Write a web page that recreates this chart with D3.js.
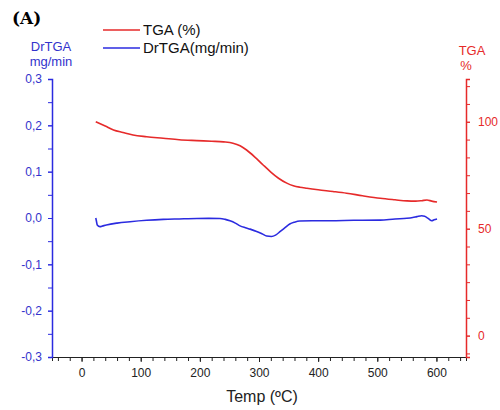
<!DOCTYPE html>
<html><head><meta charset="utf-8">
<script src="https://cdn.jsdelivr.net/npm/d3@7"></script>
<style>body{margin:0;background:#fff}svg{display:block}</style>
</head><body><svg id="c" width="500" height="410"></svg>
<script>
const tgaTemp = [24, 40, 54, 70, 87, 110, 138, 165, 195, 220, 240, 256, 268, 279, 293, 307, 320, 333, 347, 358, 369, 381, 400, 425, 448, 475, 505, 530, 550, 565, 575, 584, 592, 601];
const tgaVal  = [100, 98, 96.2, 95, 93.8, 93, 92.3, 91.6, 91.2, 90.9, 90.6, 90, 88.8, 86.8, 83.5, 79.8, 76.5, 73.6, 71.3, 70.1, 69.4, 68.9, 68.2, 67.4, 66.6, 65.4, 64.2, 63.5, 63, 62.9, 63.1, 63.4, 62.9, 62.5];
const dtgTemp = [24, 25, 26.5, 31, 36, 42, 60, 82, 110, 138, 165, 195, 215, 234, 243, 251, 260, 268, 277, 285, 296, 305, 313, 321, 328, 336, 344, 352, 360, 369, 390, 420, 460, 505, 530, 550, 560, 567, 575, 580, 584, 588, 592, 596, 601];
const dtgVal  = [0, -0.006, -0.015, -0.0187, -0.017, -0.015, -0.011, -0.008, -0.005, -0.003, -0.002, -0.001, -0.0008, -0.001, -0.003, -0.006, -0.011, -0.017, -0.021, -0.024, -0.029, -0.034, -0.039, -0.04, -0.037, -0.029, -0.021, -0.013, -0.009, -0.0065, -0.006, -0.006, -0.005, -0.0045, -0.002, -0.0007, 0.001, 0.003, 0.005, 0.004, 0.001, -0.003, -0.006, -0.004, -0.002];
const xTicks = [0, 100, 200, 300, 400, 500, 600];
const leftTicks = [-0.3, -0.2, -0.1, 0.0, 0.1, 0.2, 0.3];
const rightTicks = [0, 50, 100];

const blue = "#2b2be0", blueTxt = "#3333cc", red = "#e62a2a";
const svg = d3.select("#c");
const x = d3.scaleLinear().domain([-50, 650]).range([52, 466]);
const yL = d3.scaleLinear().domain([-0.3, 0.3]).range([357, 79]);
const yR = d3.scaleLinear().domain([-10, 120]).range([357, 79]);
const font = "'Liberation Sans', Arial, sans-serif";

// bottom axis
const xMinor = d3.range(-40, 651, 20);
const gx = svg.append("g").attr("transform", "translate(0,357)")
  .call(d3.axisBottom(x).tickValues(xMinor).tickSize(4).tickFormat(""));
gx.select(".domain").attr("stroke", "#222");
gx.selectAll(".tick line").attr("stroke", "#222");
const gx2 = svg.append("g").attr("transform", "translate(0,357)")
  .call(d3.axisBottom(x).tickValues(xTicks).tickSize(5).tickPadding(6).tickFormat(d3.format("d")));
gx2.select(".domain").remove();
gx2.selectAll(".tick line").attr("stroke", "#222");
gx2.selectAll("text").attr("font-family", font).attr("font-size", 12).attr("fill", "#222");

// left axis
const comma = d => d3.format(".1f")(d).replace(".", ",").replace("−", "-");
const gl = svg.append("g").attr("transform", "translate(52,0)")
  .call(d3.axisLeft(yL).tickValues(d3.range(-0.3, 0.3001, 0.05)).tickSize(4).tickFormat(""));
gl.select(".domain").attr("stroke", blue).attr("stroke-width", 1.5);
gl.selectAll(".tick line").attr("stroke", blue);
const gl2 = svg.append("g").attr("transform", "translate(52,0)")
  .call(d3.axisLeft(yL).tickValues(leftTicks).tickSize(4).tickPadding(6).tickFormat(comma));
gl2.select(".domain").remove();
gl2.selectAll(".tick line").attr("stroke", blue);
gl2.selectAll("text").attr("font-family", font).attr("font-size", 12).attr("fill", blueTxt);

// right axis
const rMinor = d3.range(-50 / 6, 120, 50 / 6);
const gr = svg.append("g").attr("transform", "translate(466,0)")
  .call(d3.axisRight(yR).tickValues(rMinor).tickSize(4).tickFormat(""));
gr.select(".domain").attr("stroke", red).attr("stroke-width", 1.5);
gr.selectAll(".tick line").attr("stroke", red);
const gr2 = svg.append("g").attr("transform", "translate(466,0)")
  .call(d3.axisRight(yR).tickValues(rightTicks).tickSize(4).tickPadding(8).tickFormat(d3.format("d")));
gr2.select(".domain").remove();
gr2.selectAll(".tick line").attr("stroke", red);
gr2.selectAll("text").attr("font-family", font).attr("font-size", 12).attr("fill", red);

// lines
const lineT = d3.line().x(d => x(d[0])).y(d => yR(d[1])).curve(d3.curveMonotoneX);
const lineD = d3.line().x(d => x(d[0])).y(d => yL(d[1])).curve(d3.curveMonotoneX);
svg.append("path").datum(d3.zip(tgaTemp, tgaVal)).attr("d", lineT)
  .attr("fill", "none").attr("stroke", red).attr("stroke-width", 1.6);
svg.append("path").datum(d3.zip(dtgTemp, dtgVal)).attr("d", lineD)
  .attr("fill", "none").attr("stroke", blue).attr("stroke-width", 1.6);

// axis titles
const t = (txt, xx, yy, size, fill, anchor) => svg.append("text").text(txt)
  .attr("x", xx).attr("y", yy).attr("font-family", font).attr("font-size", size)
  .attr("fill", fill).attr("text-anchor", anchor || "middle");
t("DrTGA", 51, 51, 13, blueTxt);
t("mg/min", 51, 66, 13, blueTxt);
t("TGA", 472, 55, 13, red);
t("%", 466, 70, 13, red);
t("Temp (ºC)", 262, 402, 16, "#222");

// legend
const legend = [["TGA (%)", red, 30], ["DrTGA(mg/min)", blue, 48]];
legend.forEach(([lab, col, yy]) => {
  svg.append("line").attr("x1", 103).attr("x2", 140).attr("y1", yy).attr("y2", yy)
    .attr("stroke", col).attr("stroke-width", 1.6);
  t(lab, 143, yy + 5, 15, "#111", "start");
});

// panel label
svg.append("text").text("(A)").attr("x", 12).attr("y", 24)
  .attr("font-family", "'DejaVu Serif', serif").attr("font-weight", "bold")
  .attr("font-size", 17).attr("fill", "#000");
</script></body></html>
